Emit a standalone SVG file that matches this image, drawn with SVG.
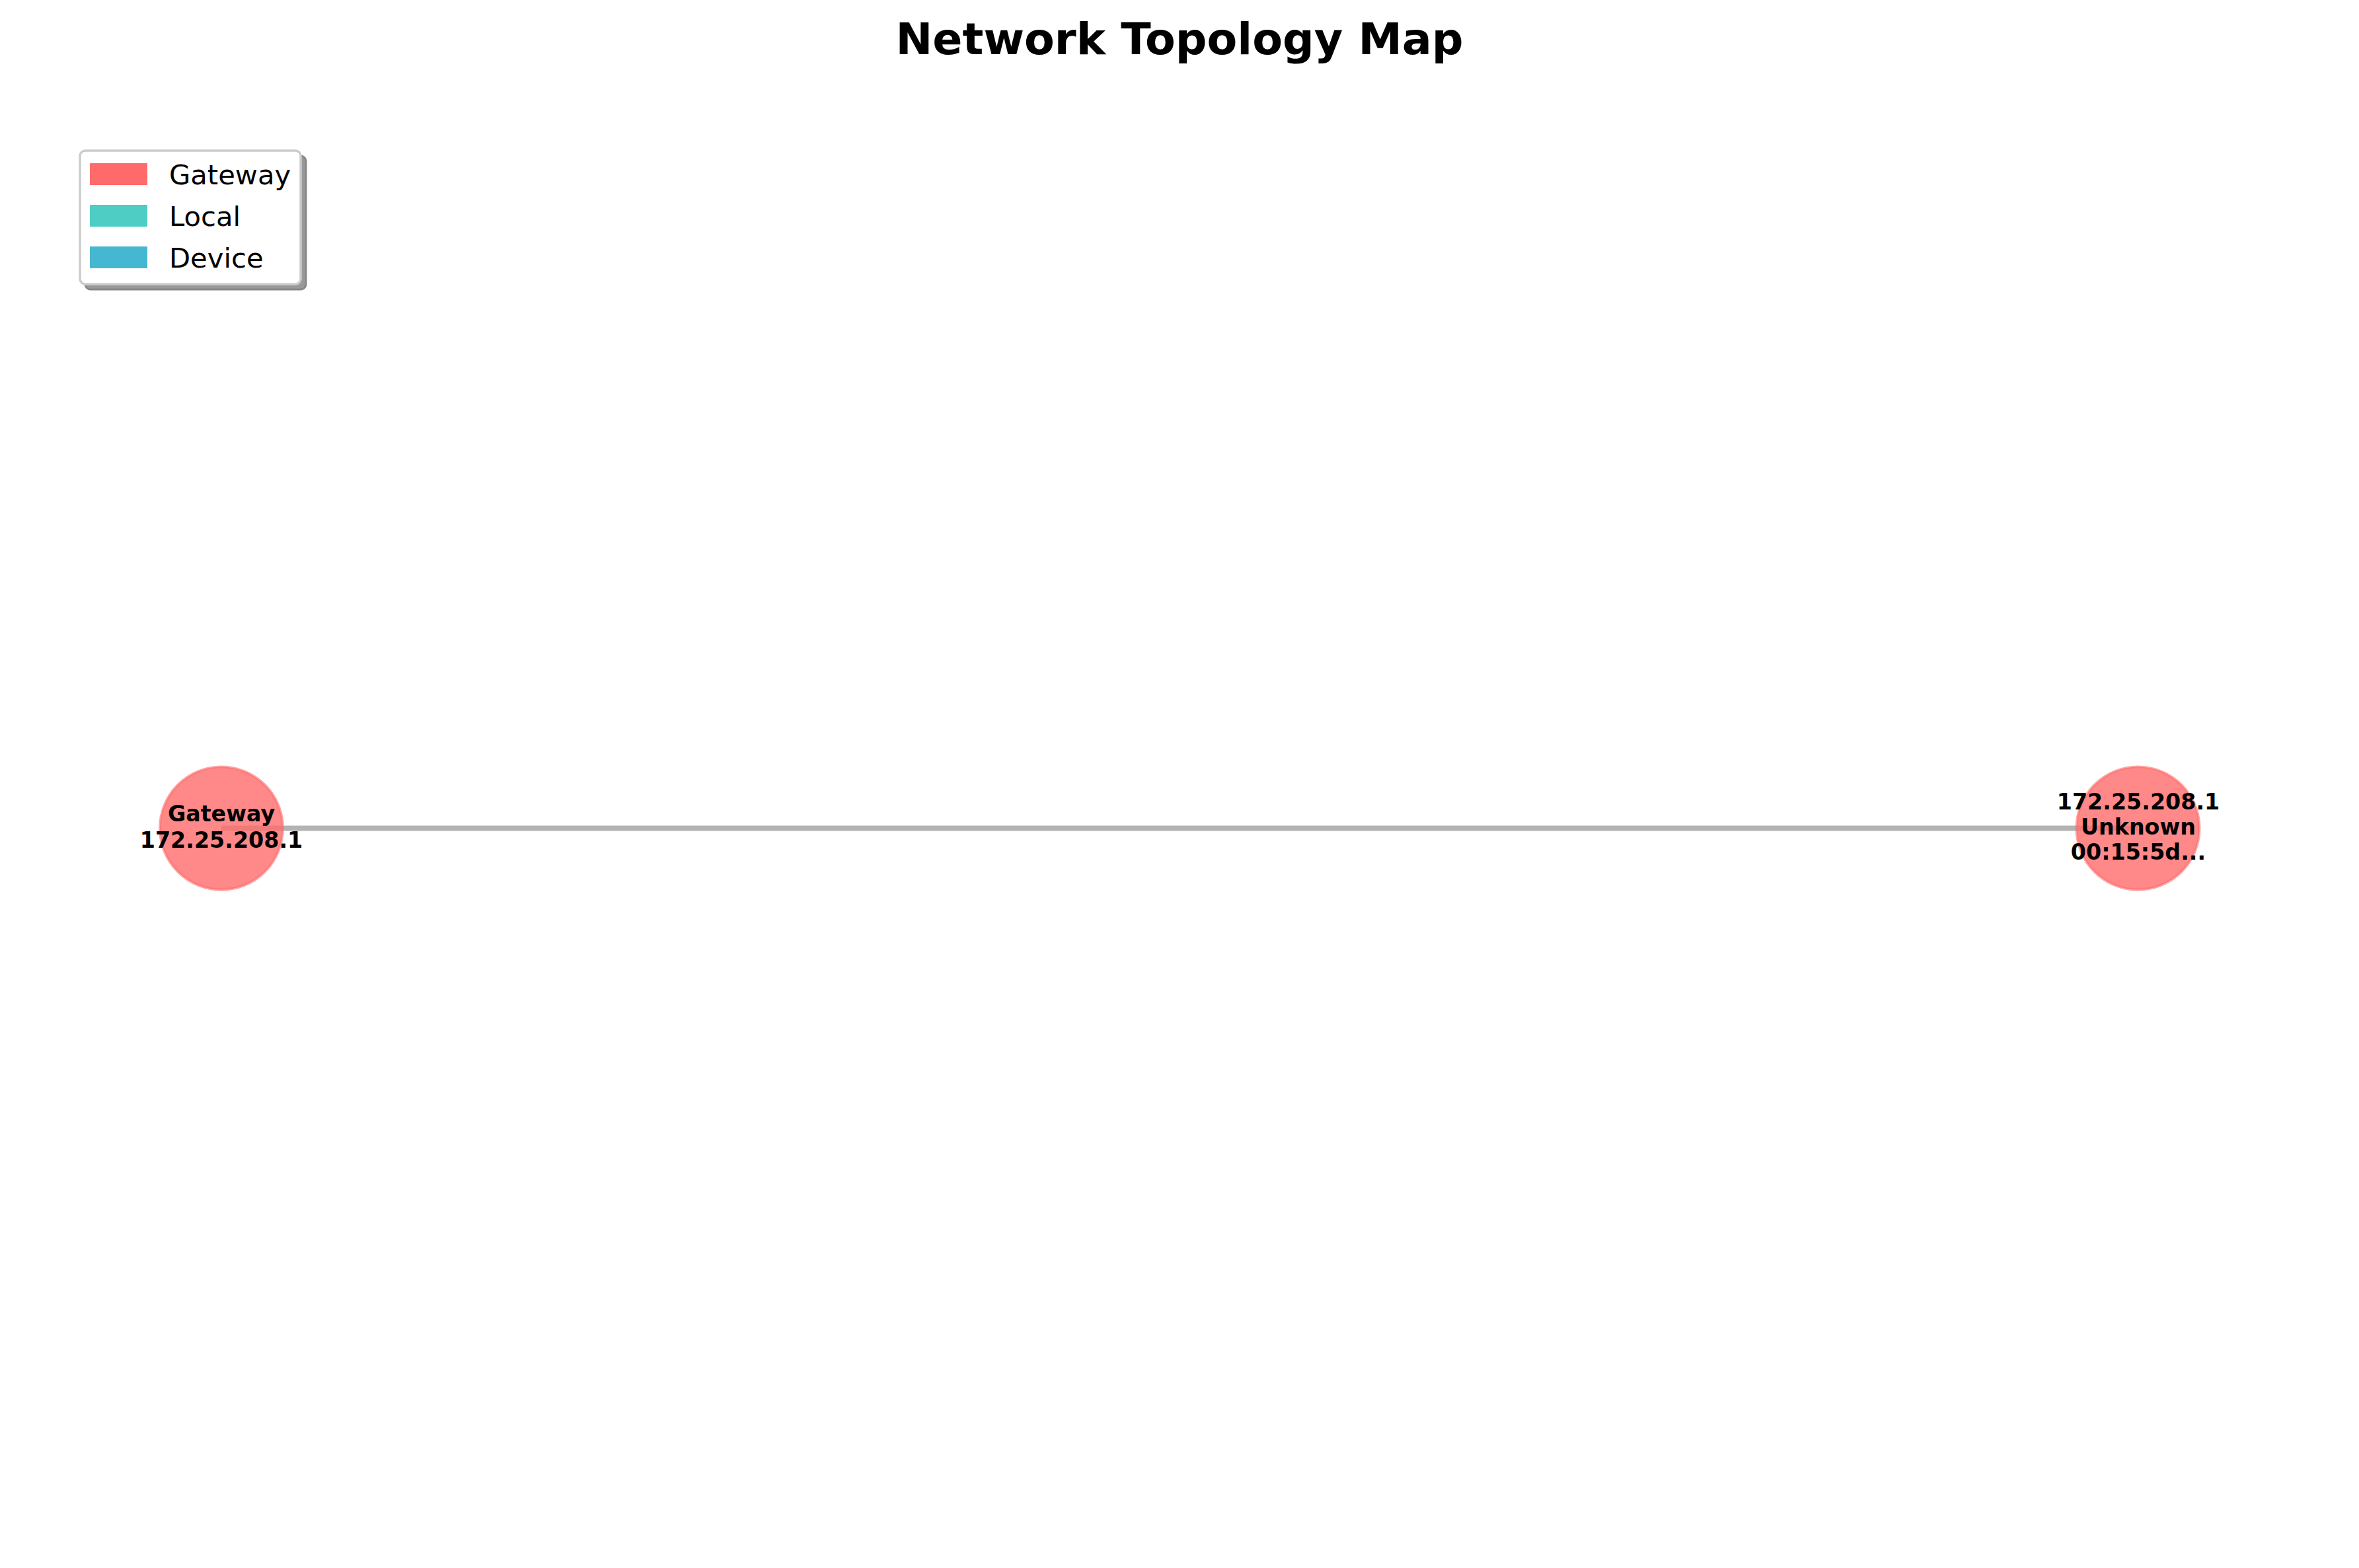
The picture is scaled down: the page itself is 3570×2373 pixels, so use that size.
<svg xmlns="http://www.w3.org/2000/svg" width="3570" height="2373" viewBox="0 0 3570 2373">
<style>
.title{font-family:"DejaVu Sans",sans-serif;font-weight:bold;font-size:66.7px;fill:#000;text-anchor:middle}
.lbl{font-family:"DejaVu Sans",sans-serif;font-weight:bold;font-size:33.3px;fill:#000;text-anchor:middle}
.leg{font-family:"DejaVu Sans",sans-serif;font-size:41.7px;fill:#000}
.node{fill:#FF6B6B;fill-opacity:0.8;stroke:#FF6B6B;stroke-opacity:0.6;stroke-width:4}
.edge{stroke:#b3b3b3;stroke-width:8;fill:none}
</style>
<rect width="3570" height="2373" fill="#fff"/>
<text class="title" x="1785" y="82">Network Topology Map</text>
<g id="connectors">
<line class="edge" x1="335" y1="1253.5" x2="3235.5" y2="1253.5"/>
</g>
<g id="node-gateway">
<circle class="node" cx="335" cy="1253.5" r="93"/>
<text class="lbl" x="335" y="1243">Gateway</text>
<text class="lbl" x="335" y="1283">172.25.208.1</text>
</g>
<g id="node-unknown">
<circle class="node" cx="3235.5" cy="1253.5" r="93"/>
<text class="lbl" x="3236" y="1225">172.25.208.1</text>
<text class="lbl" x="3236" y="1263">Unknown</text>
<text class="lbl" x="3236" y="1301">00:15:5d...</text>
</g>
<g id="legend">
<rect x="129" y="236" width="334" height="202" rx="8" fill="#999" stroke="#888" stroke-width="3"/>
<rect x="121" y="228" width="334" height="202" rx="8" fill="#fff" stroke="#cccccc" stroke-width="3.5"/>
<rect x="136" y="247" width="87" height="33" fill="#FF6B6B"/>
<rect x="136" y="310" width="87" height="33" fill="#4ECDC4"/>
<rect x="136" y="373" width="87" height="33" fill="#45B7D1"/>
<text class="leg" x="256" y="279">Gateway</text>
<text class="leg" x="256" y="342">Local</text>
<text class="leg" x="256" y="405">Device</text>
</g>
</svg>
